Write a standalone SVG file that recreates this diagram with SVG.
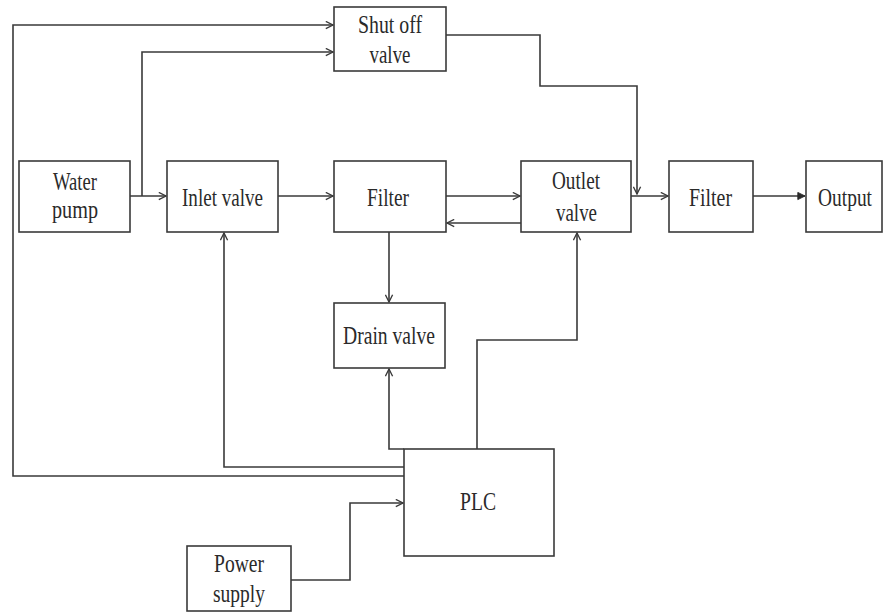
<svg xmlns="http://www.w3.org/2000/svg" width="886" height="615" viewBox="0 0 886 615">
<style>
.box{fill:#fff;stroke:#3a3a3a;stroke-width:1.6}
.c{fill:none;stroke:#3a3a3a;stroke-width:1.6}
text{font-family:"Liberation Serif","Times New Roman",serif;font-size:25px;fill:#2a2a2a}
</style>
<defs>
<marker id="a" viewBox="0 0 10 10" refX="9" refY="5" markerWidth="9" markerHeight="9" markerUnits="userSpaceOnUse" orient="auto">
<path d="M1,1 L9,5 L1,9" fill="none" stroke="#3a3a3a" stroke-width="1.5"/>
</marker>
<marker id="f" viewBox="0 0 10 10" refX="9" refY="5" markerWidth="9" markerHeight="9" markerUnits="userSpaceOnUse" orient="auto">
<path d="M1,1 L9,5 L1,9 Z" fill="#2a2a2a" stroke="#2a2a2a" stroke-width="1"/>
</marker>
</defs>
<g id="connectors">
<path class="c" d="M404,476 H13 V25 H333" marker-end="url(#a)"/>
<path class="c" d="M142,196 V52 H333" marker-end="url(#a)"/>
<path class="c" d="M130,196 H166" marker-end="url(#a)"/>
<path class="c" d="M278,196 H333" marker-end="url(#a)"/>
<path class="c" d="M446,196 H520" marker-end="url(#a)"/>
<path class="c" d="M521,223 H447" marker-end="url(#a)"/>
<path class="c" d="M446,35 H540 V86 H637 V194" marker-end="url(#a)"/>
<path class="c" d="M631,196 H668" marker-end="url(#a)"/>
<path class="c" d="M753,196 H805" marker-end="url(#f)"/>
<path class="c" d="M389,232 V302" marker-end="url(#a)"/>
<path class="c" d="M404,449 H389 V369" marker-end="url(#a)"/>
<path class="c" d="M477,449 V340 H577 V233" marker-end="url(#a)"/>
<path class="c" d="M404,467 H224 V233" marker-end="url(#a)"/>
<path class="c" d="M291,580 H350 V503 H403" marker-end="url(#a)"/>
</g>
<g id="shutoff">
<rect class="box" x="334" y="7" width="112" height="64"/>
<text x="390" y="33" text-anchor="middle" textLength="64" lengthAdjust="spacingAndGlyphs">Shut off</text>
<text x="390" y="63" text-anchor="middle" textLength="41" lengthAdjust="spacingAndGlyphs">valve</text>
</g>
<g id="pump">
<rect class="box" x="19" y="161" width="111" height="71"/>
<text x="75" y="190" text-anchor="middle" textLength="44" lengthAdjust="spacingAndGlyphs">Water</text>
<text x="75" y="218" text-anchor="middle" textLength="46" lengthAdjust="spacingAndGlyphs">pump</text>
</g>
<g id="inlet">
<rect class="box" x="167" y="161" width="111" height="71"/>
<text x="222.5" y="206" text-anchor="middle" textLength="81" lengthAdjust="spacingAndGlyphs">Inlet valve</text>
</g>
<g id="filter1">
<rect class="box" x="334" y="161" width="112" height="71"/>
<text x="388" y="206" text-anchor="middle" textLength="42" lengthAdjust="spacingAndGlyphs">Filter</text>
</g>
<g id="outlet">
<rect class="box" x="521" y="161" width="110" height="71"/>
<text x="576" y="189" text-anchor="middle" textLength="48" lengthAdjust="spacingAndGlyphs">Outlet</text>
<text x="576.5" y="221" text-anchor="middle" textLength="41" lengthAdjust="spacingAndGlyphs">valve</text>
</g>
<g id="filter2">
<rect class="box" x="669" y="161" width="84" height="71"/>
<text x="710.5" y="206" text-anchor="middle" textLength="43" lengthAdjust="spacingAndGlyphs">Filter</text>
</g>
<g id="output">
<rect class="box" x="806" y="161" width="76" height="71"/>
<text x="845" y="206" text-anchor="middle" textLength="54" lengthAdjust="spacingAndGlyphs">Output</text>
</g>
<g id="drain">
<rect class="box" x="334" y="303" width="111" height="65"/>
<text x="389" y="344" text-anchor="middle" textLength="92" lengthAdjust="spacingAndGlyphs">Drain valve</text>
</g>
<g id="plc">
<rect class="box" x="404" y="449" width="150" height="107"/>
<text x="478" y="510" text-anchor="middle" textLength="36" lengthAdjust="spacingAndGlyphs">PLC</text>
</g>
<g id="power">
<rect class="box" x="187" y="546" width="104" height="65"/>
<text x="239" y="572" text-anchor="middle" textLength="50" lengthAdjust="spacingAndGlyphs">Power</text>
<text x="239" y="602" text-anchor="middle" textLength="52" lengthAdjust="spacingAndGlyphs">supply</text>
</g>
</svg>
